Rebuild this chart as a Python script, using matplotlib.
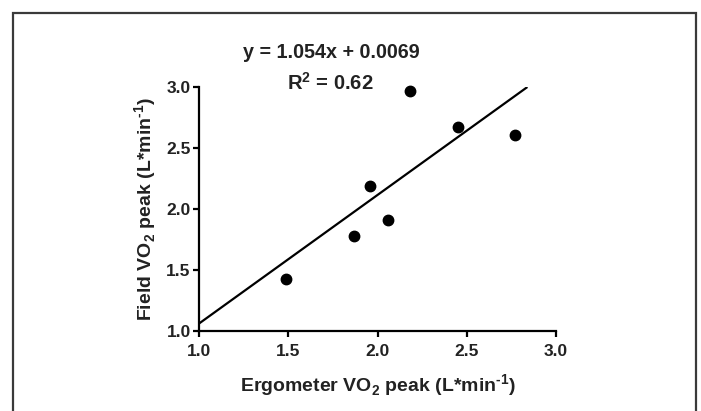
import matplotlib.pyplot as plt
import matplotlib.patches as patches
import numpy as np

plt.rcParams['font.family'] = ['Liberation Sans', 'DejaVu Sans']
plt.rcParams['font.weight'] = 'bold'
plt.rcParams['mathtext.fontset'] = 'custom'
plt.rcParams['mathtext.rm'] = 'Liberation Sans:bold'
plt.rcParams['mathtext.bf'] = 'Liberation Sans:bold'

# data
ergometer = [1.49, 1.87, 1.96, 2.06, 2.18, 2.45, 2.77]
field = [1.43, 1.78, 2.19, 1.91, 2.965, 2.67, 2.61]
slope = 1.054
intercept = 0.0069
r2 = 0.62
ticks = [1.0, 1.5, 2.0, 2.5, 3.0]

fig = plt.figure(figsize=(7.01, 4.11), dpi=100)
ax = fig.add_axes([199 / 701, 1 - 331 / 411, 357 / 701, 244 / 411])

# fitted line, clipped at the top of the y axis
x_end = (3.0 - intercept) / slope
xs = np.array([1.0, x_end])
ax.plot(xs, slope * xs + intercept, color='black', lw=1.6, solid_capstyle='butt')
ax.plot(ergometer, field, 'o', color='black', markersize=7.5, clip_on=False)

ax.set_xlim(1.0, 3.0)
ax.set_ylim(1.0, 3.0)
ax.set_xticks(ticks)
ax.set_yticks(ticks)
ax.set_xticklabels(['%.1f' % t for t in ticks], fontsize=12.5, fontweight='bold', color='#222222')
ax.set_yticklabels(['%.1f' % t for t in ticks], fontsize=12.5, fontweight='bold', color='#222222')
ax.spines['top'].set_visible(False)
ax.spines['right'].set_visible(False)
ax.spines['left'].set_linewidth(1.6)
ax.spines['bottom'].set_linewidth(1.6)
ax.tick_params(axis='x', direction='out', length=4, width=1.6, pad=5)
ax.tick_params(axis='y', direction='out', length=4, width=1.6, pad=2)

ax.set_xlabel(r'Ergometer VO$_2$ peak (L*min$^{\text{-}1}$)', fontsize=14, fontweight='bold',
              color='#222222', labelpad=10)
ax.set_ylabel(r'Field VO$_2$ peak (L*min$^{\text{-}1}$)', fontsize=14, fontweight='bold',
              color='#222222', labelpad=5)

fig.text(331 / 701, 1 - 53 / 411, 'y = %.3fx + %.4f' % (slope, intercept), fontsize=14.2,
         fontweight='bold', ha='center', va='center', color='#222222')
fig.text(330 / 701, 1 - 83 / 411, r'R$^2$ = %.2f' % r2, fontsize=14.5,
         fontweight='bold', ha='center', va='center', color='#222222')

# frame around the picture
frame = patches.Rectangle((13 / 701, -0.1), (696 - 13) / 701, 1.1 - 13 / 411,
                          transform=fig.transFigure, fill=False, edgecolor='#3a3a3a', lw=1.6)
fig.patches.append(frame)

fig.savefig('out.png', dpi=100)
